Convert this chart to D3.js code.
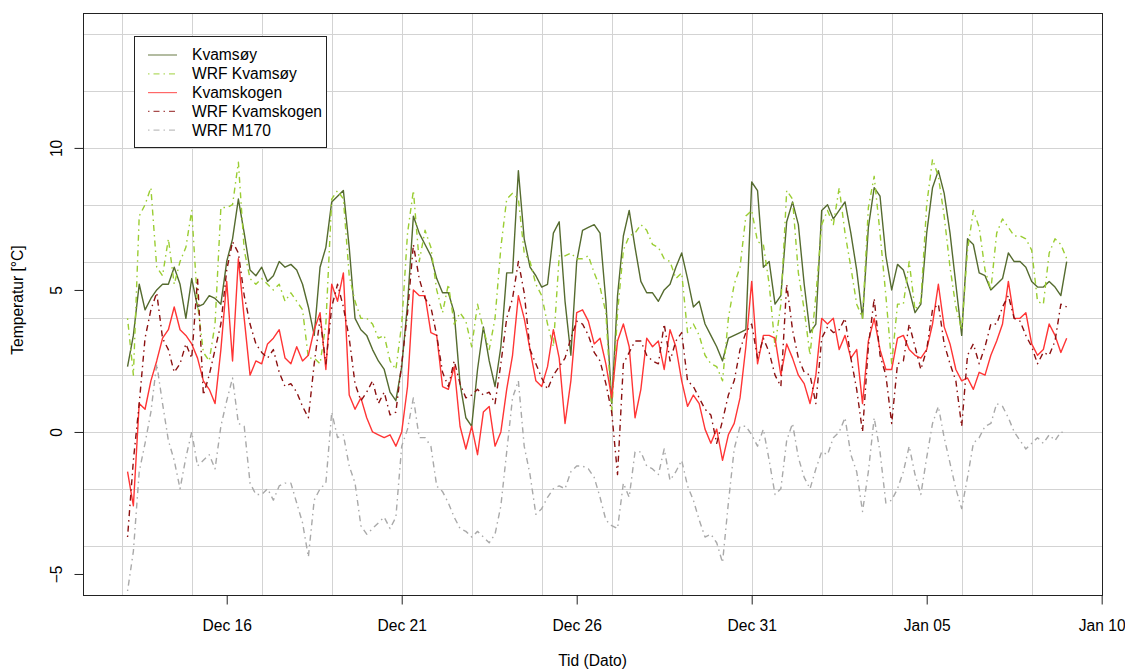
<!DOCTYPE html>
<html>
<head>
<meta charset="utf-8">
<script src="https://cdn.jsdelivr.net/npm/d3@7"></script>
<style>
  body { margin: 0; background: #fff; }
  svg text { font-family: "Liberation Sans", Arial, Helvetica, sans-serif; fill: #000; }
</style>
</head>
<body>
<div id="chart"></div>
<script>
// readings, one value every 4 hours from Dec 13 04:00
var seriesStart = new Date(2012, 11, 13, 4)
var stepHours = 4

var kvamsoy = [
  2.3, 3.4, 5.2, 4.3, 4.7, 5.0,
  5.2, 5.2, 5.8, 5.2, 4.0, 5.4,
  4.4, 4.5, 4.8, 4.7, 4.5, 6.0,
  6.8, 8.2, 7.0, 5.7, 5.5, 5.8,
  5.3, 5.5, 6.0, 5.8, 5.9, 5.7,
  5.2, 4.4, 3.4, 5.8, 6.5, 8.1,
  8.3, 8.5, 6.5, 4.0, 3.6, 3.4,
  2.9, 2.5, 2.2, 1.4, 1.1, 2.3,
  4.5, 7.6, 7.0, 6.6, 6.2, 5.4,
  4.9, 4.9, 4.2, 1.7, 0.5, 0.2,
  2.2, 3.7, 2.5, 1.6, 3.0, 5.6,
  5.6, 9.2, 6.8, 5.8, 5.5, 5.1,
  5.2, 7.0, 7.4, 4.6, 2.7, 6.0,
  7.1, 7.2, 7.3, 7.0, 4.6, 1.0,
  4.8, 6.9, 7.8, 6.5, 5.3, 4.9,
  4.9, 4.6, 5.0, 5.2, 5.8, 6.3,
  5.4, 4.4, 4.6, 3.8, 3.4, 3.0,
  2.5, 3.3, 3.4, 3.5, 3.6, 8.8,
  8.5, 5.8, 6.0, 4.5, 4.8, 7.4,
  8.1, 7.3, 5.2, 3.5, 3.8, 7.8,
  8.0, 7.5, 7.8, 8.1, 7.0, 5.7,
  4.0, 7.2, 8.6, 8.3, 6.2, 5.0,
  5.9, 5.7, 5.0, 4.2, 4.5, 7.0,
  8.6, 9.2, 8.4, 7.0, 5.2, 3.4,
  6.8, 6.6, 5.6, 5.5, 5.0, 5.2,
  5.4, 6.3, 6.0, 6.0, 5.8, 5.3,
  5.1, 5.1, 5.3, 5.1, 4.8, 6.0
]

var wrfKvamsoy = [
  4.0, 2.0, 7.6, 8.0, 8.6, 5.8,
  5.5, 6.8, 5.2, 6.0, 6.5, 7.8,
  4.5, 2.8, 2.5, 3.8, 7.9, 7.9,
  8.0, 9.5, 6.4, 5.4, 5.2, 5.4,
  5.2, 5.0, 5.2, 4.6, 4.9, 4.6,
  4.3, 2.6, 2.6, 2.4, 3.8, 8.2,
  8.5, 8.2, 5.5, 4.6, 4.0, 4.0,
  3.8, 3.3, 3.4, 2.5, 2.2, 3.8,
  7.0, 8.5, 6.0, 7.1, 6.5, 5.0,
  4.2, 5.2, 3.8, 4.2, 3.9, 3.0,
  4.5, 3.6, 2.9, 4.0, 6.5, 8.2,
  8.4, 8.2, 6.3, 6.0, 5.2, 4.8,
  3.8, 3.0, 6.2, 6.2, 6.3, 6.1,
  6.1, 6.2, 5.6, 5.1, 4.2, 0.7,
  4.2, 6.4, 6.9, 7.0, 7.3, 7.1,
  6.6, 6.5, 6.1, 6.0, 5.4, 5.6,
  3.5, 3.8, 3.4, 2.7, 2.4, 2.3,
  1.8, 4.0, 5.2, 5.8, 7.6, 7.8,
  6.7, 6.6, 5.2, 3.0, 4.5, 8.5,
  8.2, 5.6, 4.3, 2.7, 4.8, 7.3,
  7.8, 7.3, 8.6, 7.0, 5.8, 4.5,
  4.0, 7.9, 9.0, 7.0, 4.8, 2.4,
  4.5, 4.5, 6.0, 4.3, 4.6, 8.0,
  9.6, 9.0, 7.6, 5.8, 4.4, 3.6,
  6.4, 7.8, 7.2, 5.7, 5.0, 7.0,
  7.5, 7.2, 6.9, 6.9, 6.8, 6.4,
  4.6, 4.5, 6.3, 6.8, 6.6, 6.1
]

var kvamskogen = [
  -1.4, -2.6, 1.0, 0.8, 1.8, 2.5,
  3.3, 3.6, 4.4, 3.6, 3.4, 3.1,
  2.6, 1.8, 1.5, 1.0, 2.9, 5.3,
  2.5, 6.1, 4.0, 2.0, 2.5, 2.4,
  3.1, 3.3, 3.6, 2.6, 2.4, 3.0,
  2.5, 2.7, 3.6, 4.2, 2.2, 5.2,
  4.6, 5.6, 1.3, 0.8, 1.2, 0.5,
  0.0, -0.1, -0.2, -0.1, -0.5, 0.0,
  1.6, 5.0, 4.8, 4.8, 3.5, 3.4,
  1.6, 1.5, 2.3, 0.2, -0.6, 0.2,
  -0.8, 0.7, 0.9, -0.5, 0.0, 1.5,
  2.7, 4.8, 4.0, 2.9, 1.8, 1.6,
  2.3, 3.6, 2.6, 0.3, 1.8, 4.2,
  4.3, 3.9, 3.1, 3.3, 2.4, 1.2,
  3.2, 3.8, 3.0, 0.5, 1.5, 3.3,
  3.0, 3.2, 2.2, 3.6, 3.0, 1.8,
  0.9, 1.3, 1.0, 0.1, -0.4, 0.1,
  -1.0, -0.1, 0.3, 1.2, 3.0, 5.3,
  2.4, 3.4, 3.4, 3.3, 2.0, 3.1,
  2.6, 2.0, 1.7, 1.0, 2.0, 4.0,
  3.8, 4.0, 2.9, 3.4, 2.6, 2.9,
  1.0, 3.2, 4.0, 2.9, 2.2, 2.2,
  3.3, 3.4, 2.9, 2.7, 2.6, 2.9,
  3.8, 5.2, 3.7, 3.1, 2.2, 1.8,
  1.9, 1.5, 2.1, 2.0, 2.7, 3.2,
  3.8, 5.3, 4.0, 4.0, 4.2, 3.1,
  2.7, 2.9, 3.8, 3.4, 2.8, 3.3
]

var wrfKvamskogen = [
  -3.7, -1.0, 1.0, 3.3, 4.3, 4.9,
  3.3, 2.9, 2.1, 2.4, 3.1, 2.6,
  5.4, 1.3, 2.0, 2.9, 3.8, 5.7,
  6.7, 6.3, 4.8, 3.8, 3.1, 2.8,
  2.6, 2.9, 2.1, 1.6, 1.7, 1.4,
  0.9, 0.5, 2.4, 4.0, 2.4, 4.4,
  5.2, 4.4, 3.3, 1.7, 1.1, 1.4,
  1.8, 1.0, 1.4, 0.6, 0.7, 2.4,
  4.2, 6.6, 5.4, 4.7, 4.4, 3.4,
  2.1, 1.6, 2.5, 1.7, 1.2, 1.3,
  1.5, 1.3, 1.4, 1.0, 2.4, 4.0,
  4.7, 6.0, 4.9, 2.9, 2.4, 1.9,
  1.5, 2.0, 2.3, 2.6, 3.3, 3.9,
  3.8, 3.4, 2.8, 2.5, 1.7, 0.7,
  -1.5, 2.4, 2.8, 3.2, 3.2, 2.7,
  2.5, 2.4, 3.8, 2.5, 3.2, 3.5,
  1.8, 1.6, 1.2, 0.8, 0.6, -0.4,
  0.4, 1.3, 1.8, 2.9, 3.5, 3.8,
  2.6, 3.3, 2.8, 2.0, 1.6, 5.2,
  3.6, 2.6, 2.1, 2.0, 1.0, 3.3,
  3.7, 3.5, 3.6, 4.0, 2.6, 1.5,
  0.0, 3.0, 4.7, 2.7, 2.0, 0.3,
  2.4, 2.5, 3.8, 3.0, 2.2, 2.9,
  4.3, 4.5, 3.1, 2.4, 1.8, 0.2,
  2.7, 3.1, 2.4, 3.0, 3.8, 3.8,
  4.4, 4.8, 4.0, 3.9, 3.4, 3.0,
  2.4, 2.8, 2.7, 3.2, 4.5, 4.4
]

var wrfM170 = [
  -5.6, -4.2, -1.4, -0.4, 0.7, 2.4,
  1.0, -0.3, -1.0, -2.0, -0.9, 0.0,
  -1.2, -1.0, -0.8, -1.3, 0.2, 1.1,
  1.9, 0.3, 0.2, -1.8, -2.2, -2.2,
  -2.0, -2.4, -1.9, -1.8, -1.8, -2.5,
  -3.2, -4.4, -2.4, -2.0, -1.8, 0.7,
  -0.2, -0.1, -1.2, -1.8, -3.3, -3.6,
  -3.4, -3.2, -3.0, -3.4, -3.0, -0.5,
  0.1, 1.2, -0.2, -0.2, -0.5, -1.9,
  -2.1, -2.5, -3.0, -3.4, -3.5, -3.7,
  -3.5, -3.7, -3.9, -3.6, -2.6, -0.7,
  1.2, 1.8, -0.5, -1.5, -2.9, -2.7,
  -2.3, -2.0, -1.9, -2.0, -1.4, -1.2,
  -1.2, -1.3, -1.6, -2.3, -3.1, -3.3,
  -3.4, -1.8, -2.3, -0.7, -0.7, -1.2,
  -1.3, -1.5, -0.6, -1.7, -1.4, -1.0,
  -1.9, -2.4, -3.1, -3.7, -3.6, -3.9,
  -4.6, -2.5, -0.6, 0.2, 0.2, -0.1,
  -0.5, 0.1, -1.0, -2.2, -2.0, -0.3,
  0.3, -0.9, -1.6, -2.0, -1.3, -0.7,
  -0.8, -0.2, 0.0, 0.5, -0.8, -1.4,
  -2.8, -1.4, 0.5, -0.7, -2.5, -2.4,
  -2.0, -1.4, -0.5, -1.5, -2.2, -0.9,
  0.3, 0.9, -0.2, -1.1, -2.0, -2.7,
  -1.6, -0.4, -0.2, 0.2, 0.3, 1.0,
  0.9, 0.5, 0.0, -0.3, -0.6, -0.4,
  -0.2, -0.4, -0.1, -0.3, 0.0, -0.05
]

var seriesNames = ['Kvamsøy', 'WRF Kvamsøy', 'Kvamskogen', 'WRF Kvamskogen', 'WRF M170']
var seriesColors = ['#556b2f', '#9acd32', '#ff3535', '#8b1010', '#a9a9a9']
var seriesDash = [null, '1.5,4,6,4', null, '1.5,4,6,4', '1.5,4,6,4']
var seriesValues = [kvamsoy, wrfKvamsoy, kvamskogen, wrfKvamskogen, wrfM170]

var xTickDates = [new Date(2012, 11, 16), new Date(2012, 11, 21), new Date(2012, 11, 26),
  new Date(2012, 11, 31), new Date(2013, 0, 5), new Date(2013, 0, 10)]
var yTickValues = [-5, 0, 5, 10]
var yGridValues = [-4, -2, 0, 2, 4, 6, 8, 10, 12, 14]

var width = 1125
var height = 670
var plotLeft = 83
var plotRight = 1102
var plotTop = 13
var plotBottom = 595
var fontSize = '15.6px'

var x = d3.scaleTime()
  .domain([new Date(2012, 11, 11, 21, 27), new Date(2013, 0, 10, 0, 13)])
  .range([plotLeft, plotRight])

var y = d3.scaleLinear()
  .domain([-5.74, 14.75])
  .range([plotBottom, plotTop])

var xGridDates = d3.timeDay.range(new Date(2012, 11, 13), new Date(2013, 0, 10, 1))
  .filter(function (d, i) { return i % 2 === 0 })

var svg = d3.select('#chart').append('svg')
  .attr('width', width)
  .attr('height', height)

// grid
var grid = svg.append('g').attr('class', 'grid')
  .attr('stroke', '#d3d3d3')
  .attr('stroke-width', 1)

grid.selectAll('line.v').data(xGridDates).enter().append('line')
  .attr('class', 'v')
  .attr('x1', function (d) { return Math.round(x(d)) + 0.5 })
  .attr('x2', function (d) { return Math.round(x(d)) + 0.5 })
  .attr('y1', plotTop)
  .attr('y2', plotBottom)

grid.selectAll('line.h').data(yGridValues).enter().append('line')
  .attr('class', 'h')
  .attr('x1', plotLeft)
  .attr('x2', plotRight)
  .attr('y1', function (d) { return Math.round(y(d)) + 0.5 })
  .attr('y2', function (d) { return Math.round(y(d)) + 0.5 })

// series
var line = d3.line()
  .x(function (d) { return x(d.date) })
  .y(function (d) { return y(d.value) })

seriesValues.forEach(function (values, k) {
  var points = values.map(function (v, i) {
    return { date: d3.timeHour.offset(seriesStart, i * stepHours), value: v }
  })
  svg.append('path')
    .datum(points)
    .attr('fill', 'none')
    .attr('stroke', seriesColors[k])
    .attr('stroke-width', 1.4)
    .attr('stroke-linejoin', 'round')
    .attr('stroke-dasharray', seriesDash[k])
    .attr('d', line)
})

// box
svg.append('rect')
  .attr('x', plotLeft + 0.5)
  .attr('y', plotTop + 0.5)
  .attr('width', plotRight - plotLeft)
  .attr('height', plotBottom - plotTop)
  .attr('fill', 'none')
  .attr('stroke', '#222')
  .attr('stroke-width', 1)

// x axis
var xAxis = d3.axisBottom(x)
  .tickValues(xTickDates)
  .tickSize(9)
  .tickSizeOuter(0)
  .tickFormat(d3.timeFormat('%b %d'))

var gx = svg.append('g')
  .attr('transform', 'translate(0,' + (plotBottom + 0.5) + ')')
  .call(xAxis)
gx.select('.domain').remove()
gx.append('line')
  .attr('x1', x(xTickDates[0]))
  .attr('x2', x(xTickDates[xTickDates.length - 1]))
  .attr('stroke', '#222')
gx.selectAll('.tick line').attr('stroke', '#222')
gx.selectAll('.tick text')
  .attr('dy', null)
  .attr('y', 35)
  .style('font-size', fontSize)
  .style('font-family', '"Liberation Sans", Arial, sans-serif')
  .attr('fill', '#000')

// y axis
var yAxis = d3.axisLeft(y)
  .tickValues(yTickValues)
  .tickSize(9)
  .tickSizeOuter(0)

var gy = svg.append('g')
  .attr('transform', 'translate(' + (plotLeft + 0.5) + ',0)')
  .call(yAxis)
gy.select('.domain').remove()
gy.append('line')
  .attr('y1', y(yTickValues[0]))
  .attr('y2', y(yTickValues[yTickValues.length - 1]))
  .attr('stroke', '#222')
gy.selectAll('.tick line').attr('stroke', '#222')
gy.selectAll('.tick text')
  .attr('dy', null)
  .attr('x', 0)
  .attr('y', -22)
  .attr('transform', 'rotate(-90)')
  .attr('text-anchor', 'middle')
  .style('font-size', fontSize)
  .style('font-family', '"Liberation Sans", Arial, sans-serif')
  .attr('fill', '#000')

// axis titles
svg.append('text')
  .attr('x', (plotLeft + plotRight) / 2)
  .attr('y', 666)
  .attr('text-anchor', 'middle')
  .style('font-size', fontSize)
  .text('Tid (Dato)')

svg.append('text')
  .attr('transform', 'translate(23,' + ((plotTop + plotBottom) / 2 - 4) + ') rotate(-90)')
  .attr('text-anchor', 'middle')
  .style('font-size', fontSize)
  .text('Temperatur [°C]')

// legend
var legend = svg.append('g').attr('class', 'legend')
legend.append('rect')
  .attr('x', 134.5)
  .attr('y', 36.5)
  .attr('width', 192)
  .attr('height', 111)
  .attr('fill', '#fff')
  .attr('stroke', '#222')

var rows = legend.selectAll('g.row').data(seriesNames).enter().append('g')
  .attr('class', 'row')
  .attr('transform', function (d, i) { return 'translate(0,' + (55 + i * 18.8) + ')' })

rows.append('line')
  .attr('x1', 148)
  .attr('x2', 177)
  .attr('stroke', function (d, i) { return seriesColors[i] })
  .attr('stroke-width', 1.2)
  .attr('stroke-opacity', 0.75)
  .attr('stroke-dasharray', function (d, i) { return seriesDash[i] })

rows.append('text')
  .attr('x', 192)
  .attr('dy', '0.35em')
  .style('font-size', fontSize)
  .text(function (d) { return d })
</script>
</body>
</html>
